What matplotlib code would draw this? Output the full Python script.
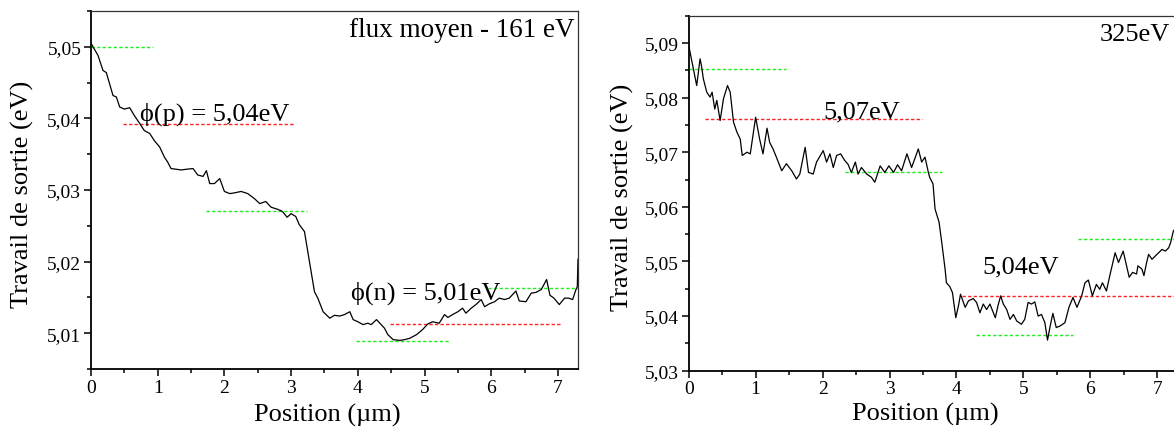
import numpy as np
import matplotlib
matplotlib.use("Agg")
import matplotlib.pyplot as plt
from matplotlib.ticker import MultipleLocator, FuncFormatter

plt.rcParams['font.family'] = ['Liberation Serif', 'DejaVu Serif']

# profil gauche : flux moyen - 161 eV  (position um, travail de sortie eV)
left_profile = [
    (0.00, 5.0505), (0.105, 5.0488), (0.18, 5.0467), (0.23, 5.0464), (0.28, 5.0448),
    (0.33, 5.0432), (0.38, 5.0430), (0.43, 5.0416), (0.50, 5.0413), (0.58, 5.0415),
    (0.65, 5.0404), (0.73, 5.0393), (0.80, 5.0383), (0.88, 5.0379), (0.95, 5.0369),
    (1.03, 5.0360), (1.10, 5.0346), (1.15, 5.0339), (1.20, 5.0330), (1.28, 5.0329),
    (1.35, 5.0328), (1.43, 5.0329), (1.53, 5.0330), (1.60, 5.0321), (1.68, 5.0319),
    (1.73, 5.0327), (1.78, 5.0309), (1.85, 5.0309), (1.93, 5.0316), (2.00, 5.0298),
    (2.08, 5.0295), (2.15, 5.0296), (2.25, 5.0298), (2.35, 5.0295), (2.45, 5.0288),
    (2.53, 5.0281), (2.62, 5.0284), (2.70, 5.0276), (2.80, 5.0273), (2.87, 5.0270),
    (2.94, 5.0262), (3.00, 5.0267), (3.07, 5.0263), (3.12, 5.0252), (3.20, 5.0242),
    (3.25, 5.0214), (3.30, 5.0186), (3.35, 5.0158), (3.40, 5.0149), (3.48, 5.0130),
    (3.58, 5.0121), (3.65, 5.0125), (3.73, 5.0124), (3.80, 5.0126), (3.88, 5.0130),
    (3.93, 5.0119), (4.00, 5.0116), (4.08, 5.0112), (4.15, 5.0114), (4.20, 5.0112),
    (4.28, 5.0119), (4.33, 5.0114), (4.40, 5.0107), (4.45, 5.0098), (4.53, 5.0091),
    (4.63, 5.0090), (4.70, 5.0091), (4.78, 5.0093), (4.88, 5.0098), (4.97, 5.0105),
    (5.05, 5.0113), (5.12, 5.0116), (5.22, 5.0114), (5.30, 5.0126), (5.35, 5.0122),
    (5.42, 5.0126), (5.50, 5.0130), (5.57, 5.0135), (5.62, 5.0128), (5.70, 5.0135),
    (5.77, 5.0140), (5.85, 5.0147), (5.90, 5.0137), (5.97, 5.0141), (6.05, 5.0144),
    (6.12, 5.0149), (6.20, 5.0147), (6.27, 5.0149), (6.37, 5.0159), (6.42, 5.0145),
    (6.52, 5.0144), (6.60, 5.0156), (6.67, 5.0157), (6.75, 5.0161), (6.83, 5.0175),
    (6.88, 5.0153), (6.94, 5.0149), (7.02, 5.0140), (7.10, 5.0149), (7.16, 5.0149),
    (7.22, 5.0147), (7.27, 5.0161), (7.29, 5.0165), (7.30, 5.0203),
]

# profil droit : 325 eV
right_profile = [
    (0.00, 5.0896), (0.05, 5.0865), (0.12, 5.0822), (0.17, 5.0871), (0.19, 5.0859),
    (0.22, 5.0834), (0.27, 5.0810), (0.32, 5.0801), (0.35, 5.0810), (0.39, 5.0779),
    (0.42, 5.0795), (0.47, 5.0758), (0.52, 5.0798), (0.58, 5.0822), (0.62, 5.0810),
    (0.67, 5.0755), (0.72, 5.0737), (0.77, 5.0724), (0.80, 5.0694), (0.87, 5.0700),
    (0.92, 5.0697), (1.00, 5.0764), (1.06, 5.0724), (1.11, 5.0697), (1.17, 5.0744),
    (1.21, 5.0718), (1.26, 5.0706), (1.31, 5.0691), (1.39, 5.0666), (1.46, 5.0679),
    (1.54, 5.0666), (1.61, 5.0651), (1.66, 5.0660), (1.74, 5.0709), (1.79, 5.0663),
    (1.86, 5.0660), (1.91, 5.0682), (2.01, 5.0703), (2.06, 5.0682), (2.11, 5.0697),
    (2.16, 5.0672), (2.21, 5.0694), (2.27, 5.0697), (2.33, 5.0685), (2.38, 5.0678),
    (2.43, 5.0663), (2.49, 5.0682), (2.53, 5.0660), (2.58, 5.0672), (2.66, 5.0660),
    (2.73, 5.0654), (2.78, 5.0645), (2.86, 5.0675), (2.93, 5.0663), (2.99, 5.0675),
    (3.06, 5.0663), (3.12, 5.0677), (3.18, 5.0666), (3.26, 5.0697), (3.33, 5.0672),
    (3.43, 5.0706), (3.48, 5.0682), (3.53, 5.0691), (3.58, 5.0663), (3.60, 5.0654),
    (3.65, 5.0642), (3.68, 5.0596), (3.74, 5.0572), (3.78, 5.0535), (3.83, 5.0486),
    (3.85, 5.0461), (3.90, 5.0454), (3.94, 5.0443), (3.99, 5.0397), (4.03, 5.0419),
    (4.06, 5.0440), (4.13, 5.0416), (4.18, 5.0428), (4.25, 5.0432), (4.30, 5.0425),
    (4.35, 5.0406), (4.40, 5.0422), (4.45, 5.0412), (4.50, 5.0422), (4.58, 5.0397),
    (4.62, 5.0419), (4.66, 5.0437), (4.70, 5.0422), (4.75, 5.0412), (4.80, 5.0394),
    (4.85, 5.0403), (4.90, 5.0391), (4.97, 5.0385), (5.02, 5.0394), (5.07, 5.0425),
    (5.12, 5.0422), (5.17, 5.0426), (5.22, 5.0400), (5.27, 5.0403), (5.32, 5.0388),
    (5.36, 5.0356), (5.40, 5.0382), (5.44, 5.0405), (5.49, 5.0379), (5.55, 5.0382),
    (5.62, 5.0388), (5.68, 5.0416), (5.74, 5.0434), (5.80, 5.0416), (5.87, 5.0437),
    (5.92, 5.0461), (5.97, 5.0466), (6.03, 5.0437), (6.09, 5.0458), (6.14, 5.0449),
    (6.18, 5.0461), (6.24, 5.0446), (6.29, 5.0474), (6.37, 5.0516), (6.42, 5.0498),
    (6.49, 5.0519), (6.54, 5.0492), (6.58, 5.0471), (6.63, 5.0480), (6.69, 5.0477),
    (6.71, 5.0492), (6.77, 5.0486), (6.80, 5.0474), (6.84, 5.0498), (6.87, 5.0513),
    (6.92, 5.0504), (6.97, 5.0510), (7.02, 5.0516), (7.07, 5.0522), (7.12, 5.0519),
    (7.17, 5.0525), (7.20, 5.0535), (7.24, 5.0556), (7.30, 5.0565),
]

# niveaux moyens : (valeur, debut, fin, couleur)
left_levels = [
    (5.0500, 0.00, 0.93, 'g'), (5.03925, 0.48, 3.04, 'r'), (5.0271, 1.73, 3.24, 'g'),
    (5.0113, 4.48, 7.05, 'r'), (5.0089, 3.98, 5.36, 'g'), (5.0163, 5.95, 7.30, 'g'),
]
right_levels = [
    (5.0852, 0.00, 1.45, 'g'), (5.0761, 0.24, 3.48, 'r'), (5.0663, 2.33, 3.79, 'g'),
    (5.0436, 4.08, 7.30, 'r'), (5.0365, 4.29, 5.74, 'g'), (5.0542, 5.82, 7.30, 'g'),
]

level_colors = {'g': '#22ee22', 'r': '#ff2222'}


def fmt(v, pos):
    return f"{v:.2f}".replace('.', ',')


def style_axes(ax, ylim, ymaj, ymin):
    ax.set_xlim(0, 7.3)
    ax.set_ylim(*ylim)
    ax.xaxis.set_major_locator(MultipleLocator(1))
    ax.xaxis.set_minor_locator(MultipleLocator(0.5))
    ax.yaxis.set_major_locator(MultipleLocator(ymaj))
    ax.yaxis.set_minor_locator(MultipleLocator(ymin))
    ax.yaxis.set_major_formatter(FuncFormatter(fmt))
    ax.tick_params(which='both', direction='out', top=False, right=False,
                   labelsize=14, width=1.1, pad=2)
    ax.tick_params(which='major', length=5)
    ax.tick_params(which='minor', length=3)
    for s in ['left', 'bottom']:
        ax.spines[s].set_linewidth(1.3)
    for s in ['top', 'right']:
        ax.spines[s].set_linewidth(0.9)
        ax.spines[s].set_color('#333333')
    ax.set_xlabel('Position (µm)', fontsize=19)
    ax.set_ylabel('Travail de sortie (eV)', fontsize=19)


def draw(ax, profile, levels):
    arr = np.array(profile)
    for y, x0, x1, c in levels:
        ax.plot([x0, x1], [y, y], color=level_colors[c], lw=1.0,
                dashes=(2.4, 1.6))
    ax.plot(arr[:, 0], arr[:, 1], color='black', lw=0.9)


fig = plt.figure(figsize=(11.74, 4.31), dpi=100)
ax1 = fig.add_axes([0.0775, 0.1415, 0.4148, 0.8306])
ax2 = fig.add_axes([0.5866, 0.1376, 0.4163, 0.8237])

draw(ax1, left_profile, left_levels)
style_axes(ax1, (5.005, 5.055), 0.01, 0.005)
ax1.text(0.73, 5.0399, 'ϕ(p) = 5,04eV', fontsize=19, ha='left', va='baseline')
ax1.text(3.90, 5.0149, 'ϕ(n) = 5,01eV', fontsize=19, ha='left', va='baseline')
ax1.text(7.255, 5.0515, 'flux moyen - 161 eV', fontsize=19.5, ha='right', va='baseline')
ax1.xaxis.set_label_coords(0.485, -0.095)
ax1.yaxis.set_label_coords(-0.117, 0.49)

draw(ax2, right_profile, right_levels)
style_axes(ax2, (5.03, 5.095), 0.01, 0.005)
ax2.text(2.01, 5.0764, '5,07eV', fontsize=19, ha='left', va='baseline')
ax2.text(4.38, 5.0479, '5,04eV', fontsize=19, ha='left', va='baseline')
ax2.text(7.19, 5.0905, '325eV', fontsize=19, ha='right', va='baseline')
ax2.xaxis.set_label_coords(0.484, -0.088)
ax2.yaxis.set_label_coords(-0.112, 0.49)

fig.savefig('out.png', dpi=100)
